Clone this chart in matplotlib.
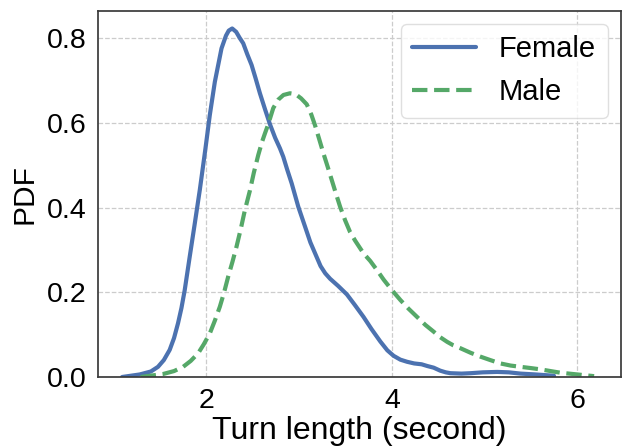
import matplotlib
matplotlib.use("Agg")
import matplotlib.pyplot as plt

# curves (turn length in seconds vs. density)
female_x = [1.09, 1.28, 1.40, 1.477, 1.54, 1.603, 1.65, 1.693, 1.73, 1.765, 1.819, 1.874,
            1.928, 1.989, 2.036, 2.09, 2.162, 2.21, 2.24, 2.277, 2.32, 2.36, 2.396, 2.44,
            2.486, 2.53, 2.576, 2.63, 2.684, 2.74, 2.792, 2.828, 2.87, 2.919, 2.99, 3.063,
            3.12, 3.171, 3.23, 3.28, 3.333, 3.42, 3.514, 3.60, 3.693, 3.78, 3.874, 3.95,
            4.018, 4.09, 4.162, 4.24, 4.32, 4.38, 4.45, 4.52, 4.58, 4.63, 4.75, 4.85,
            4.98, 5.135, 5.26, 5.387, 5.55, 5.747]
female_y = [0.000, 0.006, 0.013, 0.024, 0.040, 0.064, 0.092, 0.127, 0.163, 0.205, 0.284, 0.363,
            0.442, 0.540, 0.619, 0.697, 0.776, 0.806, 0.818, 0.823, 0.815, 0.800, 0.788, 0.762,
            0.737, 0.705, 0.670, 0.633, 0.597, 0.565, 0.540, 0.520, 0.490, 0.457, 0.402, 0.355,
            0.318, 0.292, 0.262, 0.245, 0.232, 0.215, 0.195, 0.170, 0.142, 0.113, 0.084, 0.063,
            0.050, 0.041, 0.036, 0.032, 0.030, 0.026, 0.022, 0.015, 0.011, 0.009, 0.008, 0.009,
            0.011, 0.012, 0.011, 0.008, 0.006, 0.003]

male_x = [1.29, 1.531, 1.65, 1.748, 1.83, 1.91, 1.97, 2.036, 2.09, 2.144, 2.19, 2.234,
          2.28, 2.324, 2.37, 2.414, 2.468, 2.51, 2.558, 2.60, 2.63, 2.666, 2.72, 2.774,
          2.83, 2.90, 2.96, 3.02, 3.081, 3.13, 3.171, 3.215, 3.261, 3.306, 3.351, 3.396,
          3.441, 3.495, 3.549, 3.603, 3.693, 3.766, 3.84, 3.91, 4.00, 4.09, 4.18, 4.27,
          4.36, 4.45, 4.52, 4.595, 4.66, 4.738, 4.85, 4.955, 5.06, 5.17, 5.28, 5.387,
          5.50, 5.603, 5.71, 5.82, 5.91, 6.00, 6.09, 6.18]
male_y = [0.000, 0.007, 0.014, 0.024, 0.038, 0.056, 0.077, 0.103, 0.133, 0.166, 0.200, 0.237,
          0.272, 0.308, 0.350, 0.394, 0.440, 0.482, 0.524, 0.556, 0.575, 0.597, 0.635, 0.655,
          0.666, 0.670, 0.668, 0.658, 0.644, 0.620, 0.594, 0.562, 0.528, 0.497, 0.465, 0.433,
          0.402, 0.370, 0.342, 0.322, 0.292, 0.274, 0.252, 0.230, 0.205, 0.182, 0.161, 0.142,
          0.123, 0.107, 0.094, 0.083, 0.075, 0.068, 0.057, 0.048, 0.040, 0.032, 0.027, 0.024,
          0.021, 0.018, 0.014, 0.010, 0.008, 0.006, 0.004, 0.002]

plt.rcParams['font.family'] = ['Liberation Sans', 'DejaVu Sans']
plt.rcParams['font.size'] = 21

fig = plt.figure(figsize=(6.23, 4.48), dpi=100)
ax = fig.add_axes([98/623, 71/448, 523/623, 366.3/448])

ax.plot(female_x, female_y, color='#4C72B0', lw=3, label='Female',
        solid_joinstyle='round', solid_capstyle='round')
ax.plot(male_x, male_y, color='#55A868', lw=3, ls='--', label='Male',
        dash_joinstyle='round')

ax.set_xlim(0.83, 6.47)
ax.set_ylim(0, 0.865)
ax.set_xticks([2, 4, 6])
ax.set_yticks([0.0, 0.2, 0.4, 0.6, 0.8])
ax.set_yticklabels(['0.0', '0.2', '0.4', '0.6', '0.8'])
ax.tick_params(length=0, pad=8, labelsize=20.5)

ax.grid(True, ls='--', color='#cccccc', lw=0.9)
ax.set_axisbelow(True)
for s in ax.spines.values():
    s.set_color('#3a3a3a')
    s.set_linewidth(1.25)

ax.set_xlabel('Turn length (second)', fontsize=23, labelpad=1)
ax.set_ylabel('PDF', fontsize=21.5, labelpad=6)

leg = ax.legend(loc='upper right', fontsize=21, handlelength=2.17,
                borderaxespad=0.45, framealpha=0.8)
leg.get_frame().set_edgecolor('#d8d8d8')

fig.savefig('out.png', dpi=100)
